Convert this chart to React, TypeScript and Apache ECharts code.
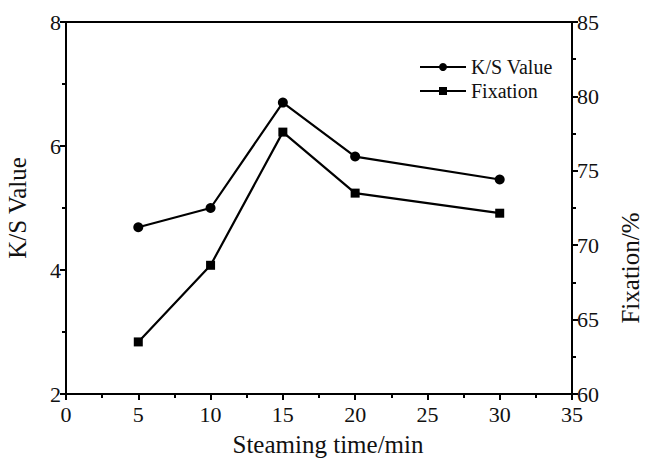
import React, { useEffect, useRef } from "react";
import * as echarts from "echarts";

const steamingTime = [5, 10, 15, 20, 30];
const ksValue = [4.69, 5.0, 6.7, 5.83, 5.46];
const fixation = [63.5, 68.65, 77.6, 73.5, 72.15];

const FONT = "Liberation Serif";

export default function App() {
  const ref = useRef<HTMLDivElement>(null);
  useEffect(() => {
    if (!ref.current) return;
    const chart = echarts.init(ref.current, undefined, { renderer: "svg" });
    const axisCommon = {
      axisLine: { show: true, lineStyle: { color: "#000", width: 2 } },
      axisTick: { show: true, inside: false, length: 6, lineStyle: { color: "#000", width: 2 } },
      minorTick: { show: true, splitNumber: 2, length: 4, lineStyle: { color: "#000", width: 2 } },
      splitLine: { show: false },
    };
    const labelStyle = { color: "#111", fontFamily: FONT, fontSize: 22, margin: 5 };
    const nameStyle = { color: "#111", fontFamily: FONT, fontSize: 25 };
    chart.setOption({
      animation: false,
      backgroundColor: "#fff",
      grid: {
        left: 66,
        right: 74,
        top: 22,
        bottom: 68,
        outerBoundsMode: "none",
        containLabel: false,
        show: true,
        borderColor: "#000",
        borderWidth: 2,
        backgroundColor: "transparent",
      },
      legend: {
        orient: "vertical",
        left: 414,
        top: 52,
        itemWidth: 46,
        itemHeight: 10,
        itemGap: 4,
        textStyle: { color: "#111", fontFamily: FONT, fontSize: 20 },
        data: ["K/S Value", "Fixation"],
      },
      xAxis: {
        type: "value",
        min: 0,
        max: 35,
        interval: 5,
        name: "Steaming time/min",
        nameLocation: "middle",
        nameGap: 38,
        nameTextStyle: { ...nameStyle, padding: [0, 0, 0, 18] },
        axisLabel: { ...labelStyle, margin: 9 },
        ...axisCommon,
      },
      yAxis: [
        {
          type: "value",
          min: 2,
          max: 8,
          interval: 2,
          name: "K/S Value",
          nameLocation: "middle",
          nameGap: 36,
          nameTextStyle: nameStyle,
          axisLabel: labelStyle,
          ...axisCommon,
        },
        {
          type: "value",
          position: "right",
          min: 60,
          max: 85,
          interval: 5,
          name: "Fixation/%",
          nameLocation: "middle",
          nameGap: 46,
          nameRotate: 90,
          nameTextStyle: { ...nameStyle, padding: [0, 120, 0, 0] },
          axisLabel: labelStyle,
          ...axisCommon,
        },
      ],
      series: [
        {
          name: "K/S Value",
          type: "line",
          yAxisIndex: 0,
          data: steamingTime.map((t, i) => [t, ksValue[i]]),
          symbol: "circle",
          symbolSize: 10,
          itemStyle: { color: "#000" },
          lineStyle: { color: "#000", width: 2.2 },
        },
        {
          name: "Fixation",
          type: "line",
          yAxisIndex: 1,
          data: steamingTime.map((t, i) => [t, fixation[i]]),
          symbol: "rect",
          symbolSize: 9,
          itemStyle: { color: "#000" },
          lineStyle: { color: "#000", width: 2.2 },
        },
      ],
    });
    return () => chart.dispose();
  }, []);
  return <div ref={ref} style={{ width: 646, height: 462, position: "absolute", left: 0, top: 0 }} />;
}
